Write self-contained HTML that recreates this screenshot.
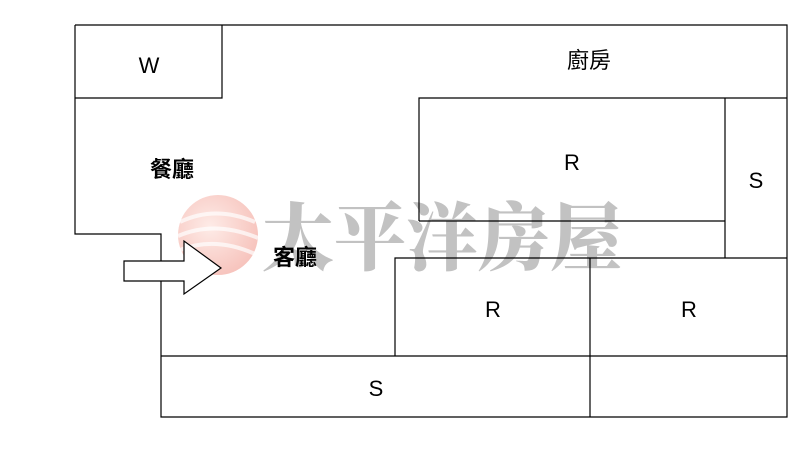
<!DOCTYPE html>
<html><head><meta charset="utf-8"><style>
body{margin:0;background:#fff;width:800px;height:469px;overflow:hidden}
</style></head><body>
<svg width="800" height="469" viewBox="0 0 800 469" xmlns="http://www.w3.org/2000/svg">
<defs><radialGradient id="g" cx="0.4" cy="0.4" r="0.7"><stop offset="0" stop-color="#fde3dd"/><stop offset="1" stop-color="#f2a49a"/></radialGradient></defs>
<circle cx="218" cy="235" r="40" fill="url(#g)" opacity="0.7"/>
<g stroke="#fff" stroke-width="4" fill="none" opacity="0.7">
<path d="M180 222 Q215 205 255 222"/><path d="M178 236 Q215 220 258 238"/><path d="M180 250 Q215 236 255 254"/>
</g>
<text x="262" y="264" font-family="'Noto Serif CJK SC',serif" font-weight="900" font-size="74" fill="#b8b8b8" opacity="0.85" textLength="360" lengthAdjust="spacingAndGlyphs">太平洋房屋</text>
<g stroke="#000" stroke-width="1.2" fill="none">
<polyline points="75,25 787,25 787,417 161,417 161,234 75,234 75,25"/>
<polyline points="75,98 222,98 222,25"/>
<polyline points="419,221 419,98 787,98"/>
<line x1="419" y1="221" x2="725" y2="221"/>
<line x1="725" y1="98" x2="725" y2="258"/>
<polyline points="395,356 395,258 787,258"/>
<line x1="161" y1="356" x2="787" y2="356"/>
<line x1="590" y1="258" x2="590" y2="417"/>
<polygon points="124,261 184,261 184,241 221,268 184,294 184,281 124,281" fill="#fff"/>
</g>
<g font-family="'Liberation Sans','Noto Sans CJK TC',sans-serif" font-size="22" fill="#000" text-anchor="middle">
<text x="149" y="73">W</text>
<text x="589" y="68">廚房</text>
<text x="172" y="177" font-weight="bold">餐廳</text>
<text x="572" y="170">R</text>
<text x="756" y="188">S</text>
<text x="295" y="265" font-weight="bold">客廳</text>
<text x="493" y="317">R</text>
<text x="689" y="317">R</text>
<text x="376" y="396">S</text>
</g>
</svg>
</body></html>
